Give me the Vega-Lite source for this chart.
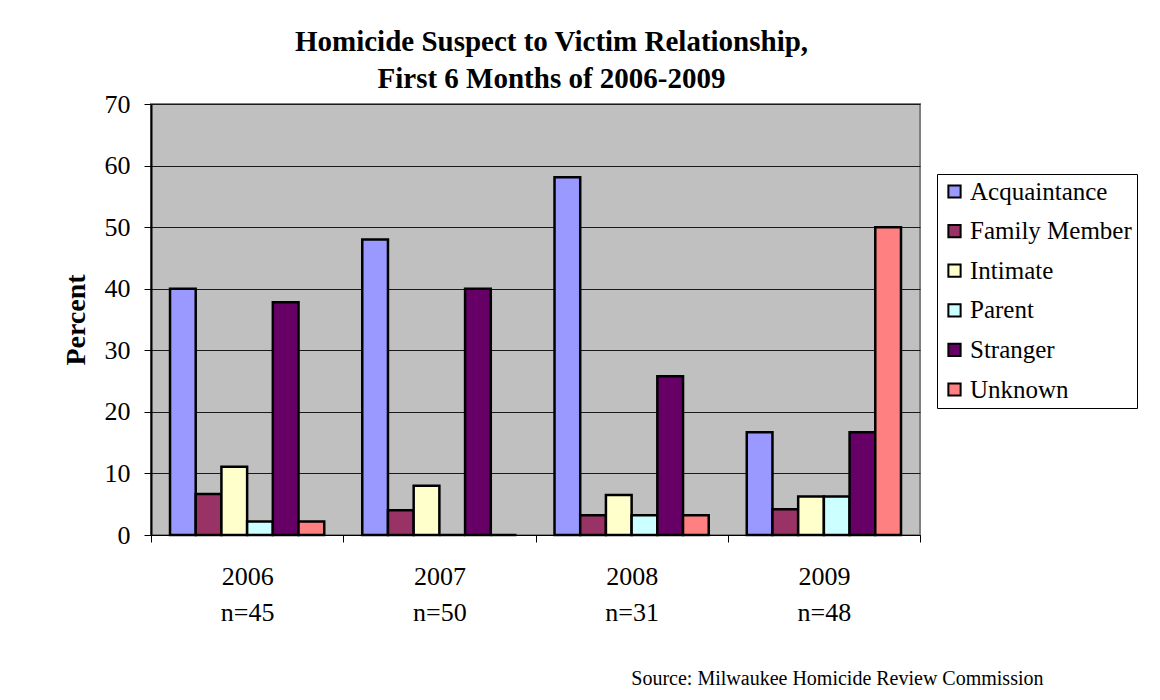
{
  "$schema": "https://vega.github.io/schema/vega-lite/v6.json",
  "autosize": {"type": "none"},
  "width": 769,
  "height": 431,
  "padding": {"left": 151, "top": 104, "right": 240, "bottom": 165},
  "background": "white",
  "title": {
    "text": ["Homicide Suspect to Victim Relationship,", "First 6 Months of 2006-2009"],
    "font": "Liberation Serif",
    "fontSize": 29,
    "fontWeight": "bold",
    "color": "black",
    "anchor": "middle",
    "frame": "group",
    "dx": 16,
    "offset": -3,
    "lineHeight": 37
  },
  "data": {
    "values": [
      {"group": "2006|n=45", "rel": "Acquaintance", "pct": 40.0},
      {"group": "2006|n=45", "rel": "Family Member", "pct": 6.67},
      {"group": "2006|n=45", "rel": "Intimate", "pct": 11.1},
      {"group": "2006|n=45", "rel": "Parent", "pct": 2.2},
      {"group": "2006|n=45", "rel": "Stranger", "pct": 37.8},
      {"group": "2006|n=45", "rel": "Unknown", "pct": 2.2},
      {"group": "2007|n=50", "rel": "Acquaintance", "pct": 48.0},
      {"group": "2007|n=50", "rel": "Family Member", "pct": 4.0},
      {"group": "2007|n=50", "rel": "Intimate", "pct": 8.0},
      {"group": "2007|n=50", "rel": "Parent", "pct": 0},
      {"group": "2007|n=50", "rel": "Stranger", "pct": 40.0},
      {"group": "2007|n=50", "rel": "Unknown", "pct": 0},
      {"group": "2008|n=31", "rel": "Acquaintance", "pct": 58.1},
      {"group": "2008|n=31", "rel": "Family Member", "pct": 3.2},
      {"group": "2008|n=31", "rel": "Intimate", "pct": 6.5},
      {"group": "2008|n=31", "rel": "Parent", "pct": 3.2},
      {"group": "2008|n=31", "rel": "Stranger", "pct": 25.8},
      {"group": "2008|n=31", "rel": "Unknown", "pct": 3.2},
      {"group": "2009|n=48", "rel": "Acquaintance", "pct": 16.7},
      {"group": "2009|n=48", "rel": "Family Member", "pct": 4.2},
      {"group": "2009|n=48", "rel": "Intimate", "pct": 6.25},
      {"group": "2009|n=48", "rel": "Parent", "pct": 6.25},
      {"group": "2009|n=48", "rel": "Stranger", "pct": 16.7},
      {"group": "2009|n=48", "rel": "Unknown", "pct": 50.0}
    ]
  },
  "mark": {"type": "bar", "stroke": "black", "strokeWidth": 2.5},
  "encoding": {
    "x": {
      "field": "group",
      "type": "nominal",
      "sort": null,
      "scale": {"paddingInner": 0, "paddingOuter": 0},
      "axis": {
        "title": "Source: Milwaukee Homicide Review Commission",
        "titleFont": "Liberation Serif",
        "titleFontSize": 20,
        "titleFontWeight": "normal",
        "titleColor": "black",
        "titleAlign": "right",
        "titleAnchor": null,
        "titleX": 892,
        "titleY": 149,
        "titleBaseline": "alphabetic",
        "labelExpr": "split(datum.label, '|')",
        "labelAngle": 0,
        "labelFont": "Liberation Serif",
        "labelFontSize": 26,
        "labelColor": "black",
        "labelLineHeight": 36,
        "labelPadding": 21,
        "labelBaseline": "top",
        "tickBand": "extent",
        "tickColor": "black",
        "tickSize": 7,
        "domainColor": "black",
        "domainWidth": 1
      }
    },
    "xOffset": {
      "field": "rel",
      "type": "nominal",
      "scale": {
        "domain": ["Acquaintance", "Family Member", "Intimate", "Parent", "Stranger", "Unknown"],
        "paddingInner": 0,
        "paddingOuter": 0.74
      }
    },
    "y": {
      "field": "pct",
      "type": "quantitative",
      "scale": {"domain": [0, 70]},
      "axis": {
        "title": "Percent",
        "titleFont": "Liberation Serif",
        "titleFontSize": 28,
        "titleFontWeight": "bold",
        "titleColor": "black",
        "titlePadding": 14,
        "values": [0, 10, 20, 30, 40, 50, 60, 70],
        "labelFont": "Liberation Serif",
        "labelFontSize": 26,
        "labelColor": "black",
        "labelPadding": 14,
        "tickColor": "black",
        "tickSize": 7,
        "domainColor": "black",
        "domainWidth": 2,
        "grid": true,
        "gridColor": "#1a1a1a",
        "gridWidth": 1
      }
    },
    "color": {
      "field": "rel",
      "type": "nominal",
      "scale": {
        "domain": ["Acquaintance", "Family Member", "Intimate", "Parent", "Stranger", "Unknown"],
        "range": ["#9999FF", "#993366", "#FFFFCC", "#CCFFFF", "#660066", "#FF8080"]
      },
      "legend": {
        "title": null,
        "orient": "none",
        "legendX": 786,
        "legendY": 70,
        "padding": 5,
        "strokeColor": "black",
        "fillColor": "white",
        "symbolType": "square",
        "symbolSize": 150,
        "symbolStrokeColor": "black",
        "symbolStrokeWidth": 2,
        "symbolOpacity": 1,
        "labelFont": "Liberation Serif",
        "labelFontSize": 25,
        "labelColor": "black",
        "labelOffset": 3,
        "rowPadding": 13.6,
        "labelLimit": 300
      }
    }
  },
  "config": {
    "font": "Liberation Serif",
    "legend": {"labelFont": "Liberation Serif"},
    "style": {"guide-label": {"font": "Liberation Serif"}, "guide-title": {"font": "Liberation Serif"}},
    "view": {"fill": "#C0C0C0", "stroke": "#808080", "strokeWidth": 2}
  }
}
